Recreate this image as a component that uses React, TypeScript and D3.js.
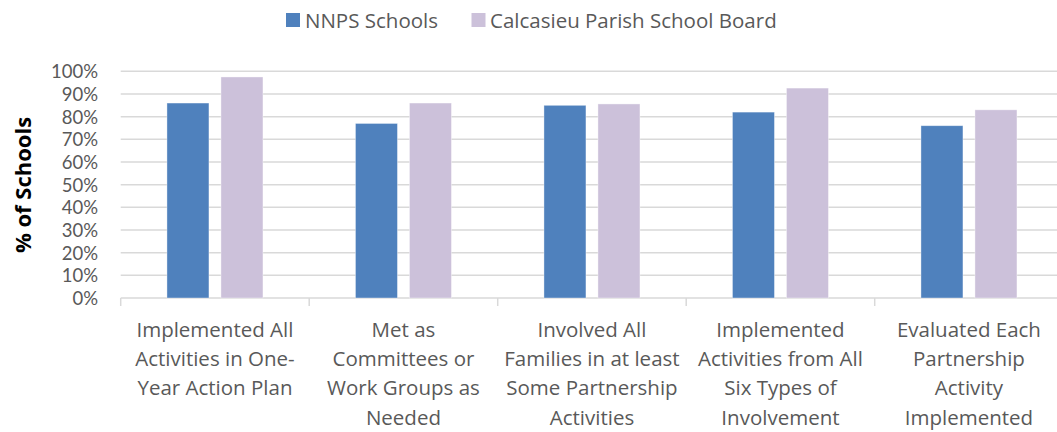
import React from "react";
import * as d3 from "d3";

const categories = [
  "Implemented All Activities in One-Year Action Plan",
  "Met as Committees or Work Groups as Needed",
  "Involved All Families in at least Some Partnership Activities",
  "Implemented Activities from All Six Types of Involvement",
  "Evaluated Each Partnership Activity Implemented",
];
const categoryLines = [
  ["Implemented All", "Activities in One-", "Year Action Plan"],
  ["Met as", "Committees or", "Work Groups as", "Needed"],
  ["Involved All", "Families in at least", "Some Partnership", "Activities"],
  ["Implemented", "Activities from All", "Six Types of", "Involvement"],
  ["Evaluated Each", "Partnership", "Activity", "Implemented"],
];
const seriesNames = ["NNPS Schools", "Calcasieu Parish School Board"];
const nnpsValues = [86, 77, 85, 82, 76];
const calcasieuValues = [97.5, 86, 85.6, 92.6, 83];
const yTicks = [0, 10, 20, 30, 40, 50, 60, 70, 80, 90, 100];
const colors = ["#4F81BD", "#CCC1DA"];

const W = 1057;
const H = 432;
const FONT = "'Open Sans', sans-serif";
const TICKFONT = "Lato, 'Open Sans', sans-serif";
const TEXT = "#595959";
const GRID = "#D9D9D9";

export default function App() {
  const left = 120.7;
  const step = 188.5;
  const x0 = d3
    .scaleBand<string>()
    .domain(categories)
    .range([left, left + step * categories.length])
    .padding(0);
  const y = d3.scaleLinear().domain([0, 100]).range([298, 71.3]);
  const groupW = 96;
  const x1 = d3
    .scaleBand<string>()
    .domain(seriesNames)
    .range([0, groupW])
    .paddingInner(2 - 96 / 54)
    .paddingOuter(0);
  const series = [nnpsValues, calcasieuValues];
  const plotRight = left + step * categories.length;
  const boundaries = d3.range(categories.length + 1).map((i) => left + i * step);

  return (
    <div style={{ position: "absolute", left: 0, top: 0 }}>
      <svg width={W} height={H} style={{ display: "block", background: "#fff" }}>
        {/* gridlines */}
        {yTicks.map((t) => (
          <line
            key={"g" + t}
            x1={left}
            x2={plotRight}
            y1={y(t)}
            y2={y(t)}
            stroke={GRID}
            strokeWidth={1.5}
          />
        ))}
        {/* x tick marks */}
        {boundaries.map((bx, i) => (
          <line
            key={"t" + i}
            x1={bx}
            x2={bx}
            y1={y(0)}
            y2={y(0) + 8}
            stroke={GRID}
            strokeWidth={1.5}
          />
        ))}
        {/* bars */}
        {categories.map((c, ci) => {
          const cx = (x0(c) as number) + x0.bandwidth() / 2 - groupW / 2;
          return series.map((vals, si) => (
            <rect
              key={c + si}
              x={cx + (x1(seriesNames[si]) as number)}
              y={y(vals[ci])}
              width={x1.bandwidth()}
              height={y(0) - y(vals[ci])}
              fill={colors[si]}
              stroke="#ffffff"
              strokeOpacity={0.5}
              strokeWidth={0.75}
            />
          ));
        })}
        {/* y tick labels */}
        {yTicks.map((t) => (
          <text
            key={"yl" + t}
            x={98}
            y={y(t)}
            textAnchor="end"
            dominantBaseline="central"
            fontFamily={TICKFONT}
            fontSize={18.5}
            fill={TEXT}
          >
            {t + "%"}
          </text>
        ))}
        {/* y axis title */}
        <text
          transform={`translate(30.5,185) rotate(-90)`}
          textAnchor="middle"
          fontFamily={FONT}
          fontWeight="bold"
          fontSize={22}
          fill="#000"
        >
          % of Schools
        </text>
        {/* category labels */}
        {categories.map((c, ci) => {
          const cx = (x0(c) as number) + x0.bandwidth() / 2;
          return (
            <text
              key={"cl" + ci}
              textAnchor="middle"
              fontFamily={FONT}
              fontSize={20.5}
              fill={TEXT}
            >
              {categoryLines[ci].map((ln, li) => (
                <tspan key={li} x={cx} y={336.5 + li * 29.4}>
                  {ln}
                </tspan>
              ))}
            </text>
          );
        })}
        {/* legend */}
        {[
          { x: 286, tx: 305 },
          { x: 471.5, tx: 490 },
        ].map((l, i) => (
          <g key={"lg" + i}>
            <rect x={l.x} y={13} width={14} height={14} fill={colors[i]} />
            <text
              x={l.tx}
              y={20}
              dominantBaseline="central"
              fontFamily={FONT}
              fontSize={20.5}
              fill={TEXT}
            >
              {seriesNames[i]}
            </text>
          </g>
        ))}
      </svg>
    </div>
  );
}
